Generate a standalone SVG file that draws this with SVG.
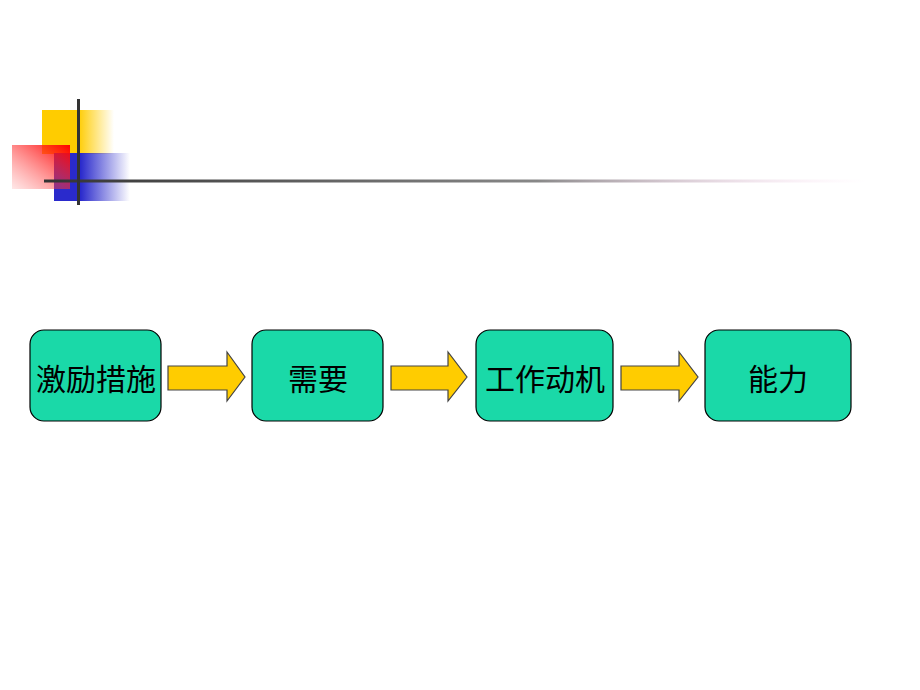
<svg xmlns="http://www.w3.org/2000/svg" width="920" height="690" viewBox="0 0 920 690">
<style>
.box{fill:#1AD9A8;stroke:#000;stroke-width:1.2}
.arr{fill:#FFCC00;stroke:#444;stroke-width:1.2}
.lbl{font-family:"Noto Sans CJK SC","Liberation Sans",sans-serif;font-size:30px;font-weight:400;fill:#000;text-anchor:middle;dominant-baseline:central}
</style>
<defs>
<linearGradient id="gy" x1="0" y1="0" x2="1" y2="0"><stop offset="0.5" stop-color="#FFCC00"/><stop offset="1" stop-color="#FFCC00" stop-opacity="0"/></linearGradient>
<linearGradient id="gr" x1="1" y1="0" x2="0" y2="1"><stop offset="0" stop-color="#FF0000"/><stop offset="1" stop-color="#FF6060" stop-opacity="0.15"/></linearGradient>
<linearGradient id="gb" x1="0" y1="0" x2="1" y2="0"><stop offset="0.35" stop-color="#2A2ACC"/><stop offset="1" stop-color="#2A2ACC" stop-opacity="0"/></linearGradient>
<linearGradient id="gl" x1="0" y1="0" x2="1" y2="0"><stop offset="0" stop-color="#333"/><stop offset="0.6" stop-color="#888"/><stop offset="1" stop-color="#ffccee" stop-opacity="0"/></linearGradient>
</defs>
<g id="decoration">
<rect x="42" y="110" width="72" height="44" fill="url(#gy)"/>
<rect x="54" y="153" width="76" height="48" fill="url(#gb)"/>
<rect x="12" y="145" width="58" height="44" fill="url(#gr)"/>
<rect x="44" y="179.5" width="822" height="3" fill="url(#gl)"/>
<rect x="77" y="99" width="3" height="106" fill="#333"/>
</g>
<g id="connectors">
<polygon class="arr" points="168,366 227,366 227,352 245,377 227,401 227,390 168,390"/>
<polygon class="arr" points="391,366 448,366 448,352 467,377 448,401 448,390 391,390"/>
<polygon class="arr" points="621,366 679,366 679,352 698,377 679,401 679,390 621,390"/>
</g>
<g id="n1"><rect class="box" x="30" y="330" width="131" height="91" rx="14"/><text class="lbl" x="96" y="377">激励措施</text></g>
<g id="n2"><rect class="box" x="252" y="330" width="131" height="91" rx="14"/><text class="lbl" x="318" y="377">需要</text></g>
<g id="n3"><rect class="box" x="476" y="330" width="137" height="91" rx="14"/><text class="lbl" x="545" y="377">工作动机</text></g>
<g id="n4"><rect class="box" x="705" y="330" width="146" height="91" rx="14"/><text class="lbl" x="778" y="377">能力</text></g>
</svg>
